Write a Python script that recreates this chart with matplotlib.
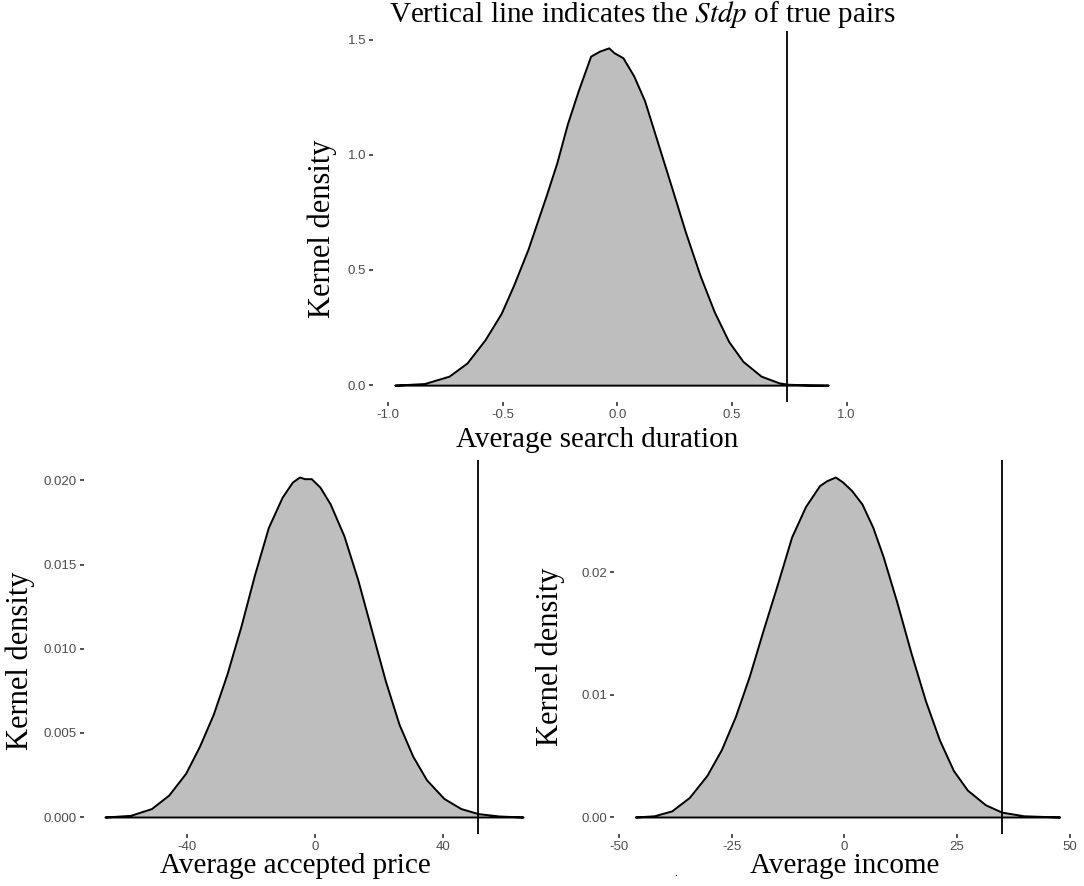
import matplotlib.pyplot as plt

plt.rcParams['font.family'] = 'Liberation Serif'
plt.rcParams['mathtext.fontset'] = 'stix'

# Data
# ------------------------------------------------------------------------------

# average search duration (top panel)
dur_x = [-0.97, -0.84, -0.733, -0.655, -0.577, -0.506, -0.452, -0.389, -0.311,
         -0.264, -0.217, -0.170, -0.116, -0.077, -0.037, -0.014, 0.025, 0.072,
         0.119, 0.173, 0.236, 0.298, 0.361, 0.423, 0.486, 0.548, 0.627, 0.705,
         0.744, 0.83, 0.92]
dur_y = [0.0, 0.007, 0.039, 0.096, 0.196, 0.311, 0.433, 0.590, 0.819, 0.963,
         1.135, 1.278, 1.428, 1.450, 1.464, 1.443, 1.421, 1.342, 1.235, 1.063,
         0.862, 0.662, 0.476, 0.318, 0.189, 0.103, 0.039, 0.010, 0.004, 0.001,
         0.0]
dur_true = 0.74

# average accepted price (bottom left)
price_x = [-65.5, -57.5, -51.0, -45.6, -40.3, -36.0, -31.7, -27.4, -23.1, -18.8,
           -14.5, -10.2, -7.0, -4.8, -3.2, -1.1, 1.6, 4.8, 9.1, 13.4, 17.7,
           22.0, 26.3, 30.6, 34.9, 40.3, 45.6, 51.0, 57.5, 65.0]
price_y = [0.0, 0.0001, 0.0005, 0.0013, 0.0026, 0.0042, 0.0061, 0.0085, 0.0113,
           0.0144, 0.0172, 0.0190, 0.0199, 0.0202, 0.0201, 0.0201, 0.0196,
           0.0186, 0.0167, 0.0141, 0.0111, 0.0081, 0.0055, 0.0036, 0.0022,
           0.0011, 0.0005, 0.0002, 0.00006, 0.0]
price_true = 51.0

# average income (bottom right)
inc_x = [-46.4, -42.2, -38.3, -34.4, -30.5, -27.3, -24.2, -21.1, -18.0, -14.8,
         -11.7, -8.6, -5.5, -3.9, -2.0, -0.4, 1.6, 3.9, 6.3, 8.6, 11.7, 14.8,
         18.0, 21.1, 24.2, 27.3, 31.3, 34.9, 39.8, 47.8]
inc_y = [0.0, 0.0001, 0.0005, 0.0016, 0.0034, 0.0055, 0.0082, 0.0115, 0.0153,
         0.0191, 0.0229, 0.0254, 0.0271, 0.0275, 0.0278, 0.0274, 0.0267,
         0.0256, 0.0237, 0.0213, 0.0175, 0.0134, 0.0095, 0.0063, 0.0038,
         0.0022, 0.0010, 0.0004, 0.0001, 0.0]
inc_true = 35.0

dur_xticks = [-1.0, -0.5, 0.0, 0.5, 1.0]
dur_xlabels = ['-1.0', '-0.5', '0.0', '0.5', '1.0']
dur_yticks = [0.0, 0.5, 1.0, 1.5]
dur_ylabels = ['0.0', '0.5', '1.0', '1.5']

price_xticks = [-40, 0, 40]
price_xlabels = ['-40', '0', '40']
price_yticks = [0.0, 0.005, 0.010, 0.015, 0.020]
price_ylabels = ['0.000', '0.005', '0.010', '0.015', '0.020']

inc_xticks = [-50, -25, 0, 25, 50]
inc_xlabels = ['-50', '-25', '0', '25', '50']
inc_yticks = [0.0, 0.01, 0.02]
inc_ylabels = ['0.00', '0.01', '0.02']

# Plot
# ------------------------------------------------------------------------------

W, H = 1084, 886
fig = plt.figure(figsize=(W / 100, H / 100), dpi=100)
fig.patch.set_facecolor('white')


def panel(left, top, right, bottom):
    return fig.add_axes([left / W, 1 - bottom / H, (right - left) / W,
                         (bottom - top) / H])


def density(ax, x, y, vline, xticks, xlabels, yticks, ylabels):
    ax.fill_between(x, y, 0, facecolor='#bebebe', edgecolor='black',
                    linewidth=1.4, joinstyle='round')
    ax.axvline(vline, color='black', linewidth=1.3)
    ax.margins(x=0.05, y=0.05)
    ax.set_xticks(xticks)
    ax.set_xticklabels(xlabels, fontfamily='Liberation Sans')
    ax.set_yticks(yticks)
    ax.set_yticklabels(ylabels, fontfamily='Liberation Sans')
    for s in ax.spines.values():
        s.set_visible(False)
    ax.tick_params(direction='out', length=3, width=1.2, color='#333333',
                   labelcolor='#4d4d4d', labelsize=9.5, pad=2)
    ax.set_facecolor('white')


ax1 = panel(373, 31, 850, 402)
density(ax1, dur_x, dur_y, dur_true, dur_xticks, dur_xlabels,
        dur_yticks, dur_ylabels)

ax2 = panel(84, 460, 544, 834)
density(ax2, price_x, price_y, price_true, price_xticks, price_xlabels,
        price_yticks, price_ylabels)

ax3 = panel(614, 460, 1081, 834)
density(ax3, inc_x, inc_y, inc_true, inc_xticks, inc_xlabels,
        inc_yticks, inc_ylabels)

fs = 21
fig.text(642 / W, 1 - 14 / H, r'Vertical line indicates the $Stdp$ of true pairs',
         ha='center', va='center', fontsize=fs)
fig.text(597 / W, 1 - 440 / H, 'Average search duration',
         ha='center', va='center', fontsize=fs)
fig.text(295 / W, 1 - 866 / H, 'Average accepted price',
         ha='center', va='center', fontsize=fs)
fig.text(845 / W, 1 - 866 / H, 'Average income',
         ha='center', va='center', fontsize=fs)
fig.text(322 / W, 1 - 229 / H, 'Kernel density', rotation=90,
         ha='center', va='center', fontsize=22)
fig.text(20 / W, 1 - 661 / H, 'Kernel density', rotation=90,
         ha='center', va='center', fontsize=22)
fig.text(550 / W, 1 - 657 / H, 'Kernel density', rotation=90,
         ha='center', va='center', fontsize=22)
fig.text(676 / W, 1 - 874 / H, '.', ha='center', va='center', fontsize=8)

fig.savefig('out.png', dpi=100)
